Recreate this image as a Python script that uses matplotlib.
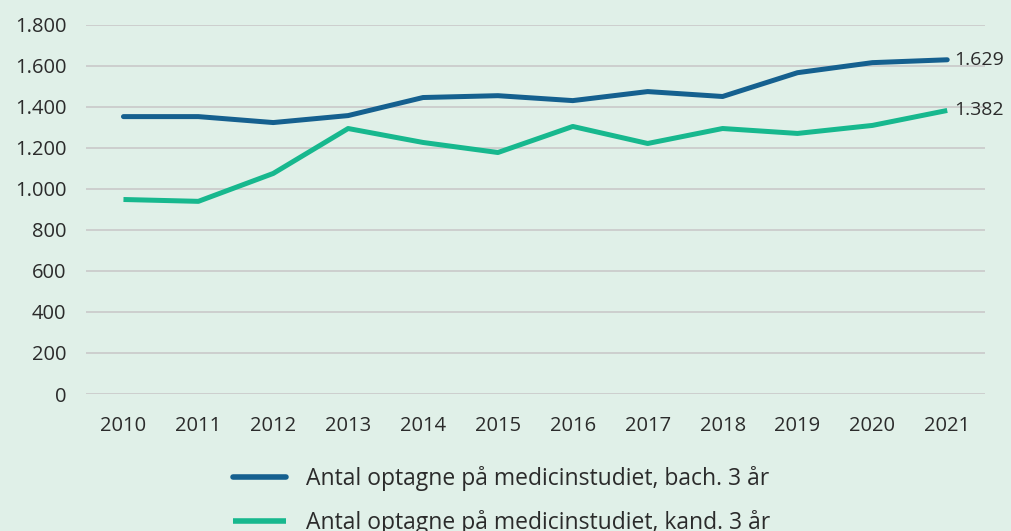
import matplotlib
matplotlib.use("Agg")
import matplotlib.pyplot as plt
from matplotlib.ticker import FuncFormatter

years = [str(y) for y in range(2010, 2022)]
bach = [1352, 1352, 1323, 1357, 1445, 1454, 1430, 1474, 1450, 1566, 1615, 1629]
kand = [948, 939, 1075, 1294, 1226, 1177, 1304, 1221, 1294, 1270, 1309, 1382]
label_bach = "Antal optagne på medicinstudiet, bach. 3 år"
label_kand = "Antal optagne på medicinstudiet, kand. 3 år"
yticks = [0, 200, 400, 600, 800, 1000, 1200, 1400, 1600, 1800]

bg = "#e0f0e8"
c_bach = "#15608f"
c_kand = "#17b88e"
txt = "#2b2b2b"

plt.rcParams['font.family'] = ['Open Sans', 'DejaVu Sans']

fig = plt.figure(figsize=(10.12, 5.31), dpi=100, facecolor=bg)
ax = fig.add_axes([0.085, 0.258, 0.888, 0.6955], facecolor=bg)

x = list(range(len(years)))
ax.plot(x, bach, color=c_bach, lw=3.6, solid_capstyle='round', label=label_bach)
ax.plot(x, kand, color=c_kand, lw=3.6, solid_capstyle='butt', label=label_kand)

ax.set_xlim(-0.5, len(years) - 0.5)
ax.set_ylim(0, 1800)
ax.set_yticks(yticks)
ax.yaxis.set_major_formatter(FuncFormatter(lambda v, p: f"{int(v):,}".replace(",", ".")))
ax.set_xticks(x)
ax.set_xticklabels(years)
ax.grid(axis='y', color='#cccccc', lw=1.3)
ax.set_axisbelow(True)
for s in ax.spines.values():
    s.set_visible(False)
ax.tick_params(axis='both', length=0, labelsize=14.5, colors=txt)
ax.tick_params(axis='y', pad=14)
ax.tick_params(axis='x', pad=16)

for series in (bach, kand):
    ax.annotate(f"{series[-1]:,}".replace(",", "."), xy=(x[-1], series[-1]),
                xytext=(5, 0), textcoords='offset points', va='center', ha='left',
                fontsize=14, color=txt, annotation_clip=False)

leg = fig.legend(loc='upper center', bbox_to_anchor=(0.496, 0.162), ncol=1, frameon=False,
                 fontsize=16.5, handlelength=2.3, handletextpad=0.9, labelspacing=0.85,
                 labelcolor=txt)
for h in leg.get_lines():
    h.set_linewidth(4)

fig.savefig("out.png", dpi=100, facecolor=bg)
